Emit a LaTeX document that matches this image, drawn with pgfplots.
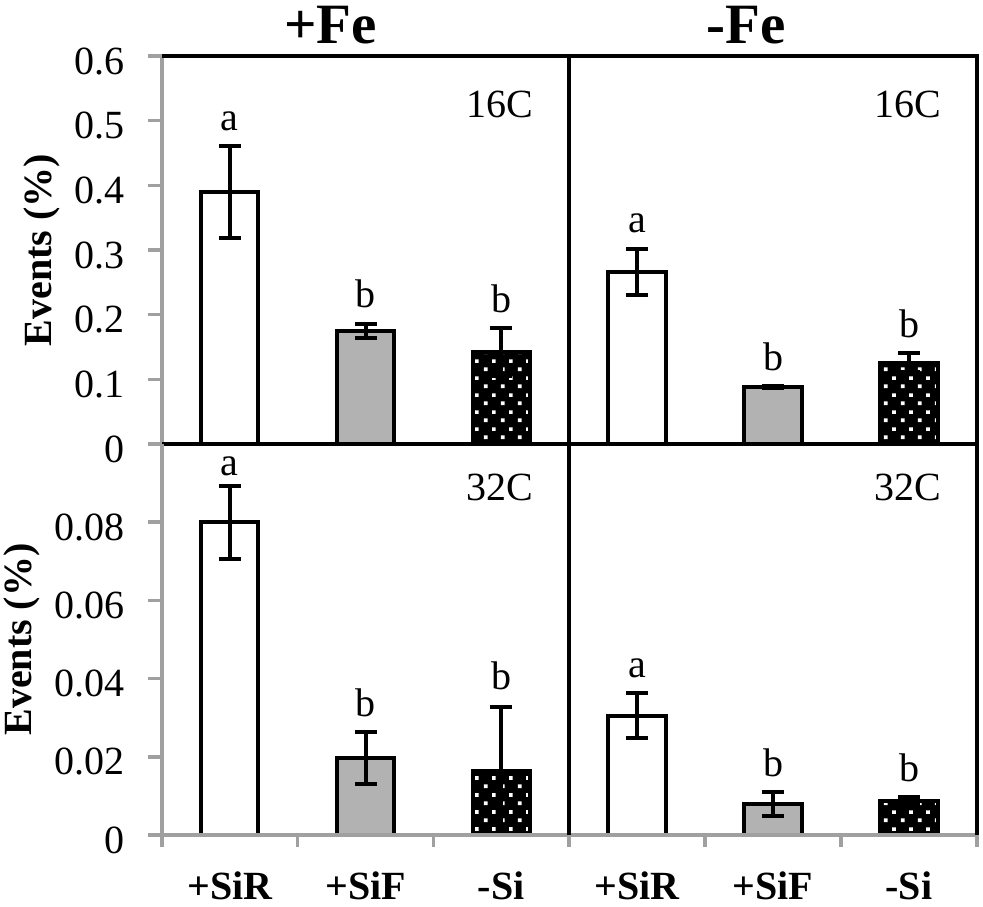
\documentclass[border=0pt]{standalone}
\usepackage{pgfplots}
\pgfplotsset{compat=1.18}
\usepackage{pgfplotstable}
\usepackage{fontspec}
\setmainfont{Liberation Serif}
\usetikzlibrary{patterns}
\definecolor{axgray}{RGB}{160,160,160}
\definecolor{bargray}{RGB}{178,178,178}

\pgfdeclarepatternformonly{whitedots}{\pgfqpoint{0pt}{0pt}}{\pgfqpoint{8.33pt}{8.33pt}}{\pgfqpoint{8.33pt}{8.33pt}}{%
 \pgfpathrectangle{\pgfqpoint{0.5pt}{0.5pt}}{\pgfqpoint{1.8pt}{1.8pt}}%
 \pgfpathrectangle{\pgfqpoint{4.67pt}{4.67pt}}{\pgfqpoint{1.8pt}{1.8pt}}%
 \pgfusepath{fill}}

% letters: x, top of error bar, label
\pgfplotstableread{
x ytop l
0 0.461 a
1 0.186 b
2 0.179 b
}\lettersTL
\pgfplotstableread{
x ytop l
0 0.302 a
1 0.090 b
2 0.141 b
}\lettersTR
\pgfplotstableread{
x ytop l
0 0.0880 a
1 0.0263 b
2 0.0331 b
}\lettersBL
\pgfplotstableread{
x ytop l
0 0.0362 a
1 0.0109 b
2 0.0097 b
}\lettersBR

\newcommand\txt{\fontsize{20}{24}\selectfont}

\pgfplotsset{
 panel/.style={
  scale only axis, xmin=-0.5, xmax=2.5, ymin=0,
  ybar, bar width=0.42, bar shift=0pt,
  axis line style={draw=none},
  clip=false,
  tick align=outside,
  xtick pos=bottom, ytick pos=left,
  xtick=\empty, ytick=\empty,
  /pgf/number format/assume math mode=true,
  tick label style={font=\txt},
  every tick/.style={axgray, line width=1.8pt},
  major tick length=7pt,
  minor tick length=6pt,
  yticklabel style={inner sep=0pt, xshift=-11.5pt, yshift=-2.5pt},
 },
 toprow/.style={height=194pt, ymax=0.6,},
 botrow/.style={height=195.5pt, ymax=0.1,
  xtick={0,1,2}, xticklabels={+SiR,+SiF,-Si},
  minor xtick={-0.5,0.5,1.5,2.5},
  major x tick style={draw=none},
  xticklabel style={font=\txt\bfseries, inner sep=0pt, anchor=north, yshift=-11pt},
 },
 ebar/.style={error bars/.cd, y dir=both, y explicit,
  error bar style={line width=2pt, black},
  error mark options={rotate=90, mark size=5.5pt, line width=2pt, black}},
 barW/.style={draw=black, line width=2pt, fill=white, ebar},
 barG/.style={draw=black, line width=2pt, fill=bargray, ebar},
 barP/.style={draw=black, line width=2pt, fill=black,
  postaction={pattern=whitedots, pattern color=white}, ebar},
 letters/.style={draw=none, fill=none, forget plot, nodes near coords,
  point meta=explicit symbolic,
  every node near coord/.append style={anchor=south, inner sep=0pt, yshift=7.5pt, font=\txt, black}},
}

\begin{document}
\begin{tikzpicture}
\useasboundingbox (0,0) rectangle (491.5pt,453pt);

% ---------- top left: +Fe, 16C
\begin{axis}[panel, toprow, width=203.5pt, at={(81pt,231pt)}, anchor=south west,
  ytick={0,0.1,0.2,0.3,0.4,0.5,0.6}, yticklabels={0,0.1,0.2,0.3,0.4,0.5,0.6}]
\addplot[barW] coordinates {(0,0.390) +- (0,0.071)};
\addplot[barG] coordinates {(1,0.175) +- (0,0.0105)};
\addplot[barP] coordinates {(2,0.142) +- (0,0.037)};
\addplot[letters] table[x=x, y=ytop, meta=l] {\lettersTL};
\draw[axgray, line width=1.8pt] (rel axis cs:0,0) -- (rel axis cs:0,1);
\draw[black, line width=2pt] (rel axis cs:0,1) -- (rel axis cs:1,1) -- (rel axis cs:1,0) -- (rel axis cs:0,0);
\node[anchor=north east, inner sep=0pt, font=\txt] at (rel axis cs:0.914,0.912) {16C};
\node[anchor=base, inner sep=0pt, font=\fontsize{28.5}{32}\selectfont\bfseries] at ([yshift=6.5pt]rel axis cs:0.414,1) {+Fe};
\node[rotate=90, anchor=base, inner sep=0pt, font=\txt\bfseries] at ([xshift=-55pt]rel axis cs:0,0.5) {Events (\%)};
\end{axis}

% ---------- top right: -Fe, 16C
\begin{axis}[panel, toprow, width=204pt, at={(284.5pt,231pt)}, anchor=south west]
\addplot[barW] coordinates {(0,0.266) +- (0,0.036)};
\addplot[barG] coordinates {(1,0.088) +- (0,0.002)};
\addplot[barP] coordinates {(2,0.126) +- (0,0.015)};
\addplot[letters] table[x=x, y=ytop, meta=l] {\lettersTR};
\draw[black, line width=2pt] (rel axis cs:0,0) -- (rel axis cs:0,1) -- (rel axis cs:1,1) -- (rel axis cs:1,0) -- cycle;
\node[anchor=north east, inner sep=0pt, font=\txt] at (rel axis cs:0.914,0.912) {16C};
\node[anchor=base, inner sep=0pt, font=\fontsize{28.5}{32}\selectfont\bfseries] at ([yshift=6.5pt]rel axis cs:0.435,1) {-Fe};
\end{axis}

% ---------- bottom left: +Fe, 32C
\begin{axis}[panel, botrow, width=203.5pt, at={(81pt,35.5pt)}, anchor=south west,
  ytick={0,0.02,0.04,0.06,0.08}, yticklabels={0,0.02,0.04,0.06,0.08}]
\addplot[barW] coordinates {(0,0.0800) +- (0,0.0093)};
\addplot[barG] coordinates {(1,0.0197) +- (0,0.0066)};
\addplot[barP] coordinates {(2,0.0164) +- (0,0.0163)};
\addplot[letters] table[x=x, y=ytop, meta=l] {\lettersBL};
\draw[axgray, line width=1.8pt] (rel axis cs:1,0) -- (rel axis cs:0,0) -- (rel axis cs:0,1);
\draw[black, line width=2pt] (rel axis cs:1,0) -- (rel axis cs:1,1);
\node[anchor=north east, inner sep=0pt, font=\txt] at (rel axis cs:0.914,0.923) {32C};
\node[rotate=90, anchor=base, inner sep=0pt, font=\txt\bfseries] at ([xshift=-65pt]rel axis cs:0,0.5) {Events (\%)};
\end{axis}

% ---------- bottom right: -Fe, 32C
\begin{axis}[panel, botrow, width=204pt, at={(284.5pt,35.5pt)}, anchor=south west]
\addplot[barW] coordinates {(0,0.0305) +- (0,0.0057)};
\addplot[barG] coordinates {(1,0.0079) +- (0,0.0030)};
\addplot[barP] coordinates {(2,0.0087) +- (0,0.0010)};
\addplot[letters] table[x=x, y=ytop, meta=l] {\lettersBR};
\draw[axgray, line width=1.8pt] (rel axis cs:0,0) -- (rel axis cs:1,0);
\draw[black, line width=2pt] (rel axis cs:0,0) -- (rel axis cs:0,1);
\draw[black, line width=2pt] (rel axis cs:1,0) -- (rel axis cs:1,1);
\node[anchor=north east, inner sep=0pt, font=\txt] at (rel axis cs:0.914,0.923) {32C};
\end{axis}
\end{tikzpicture}
\end{document}
